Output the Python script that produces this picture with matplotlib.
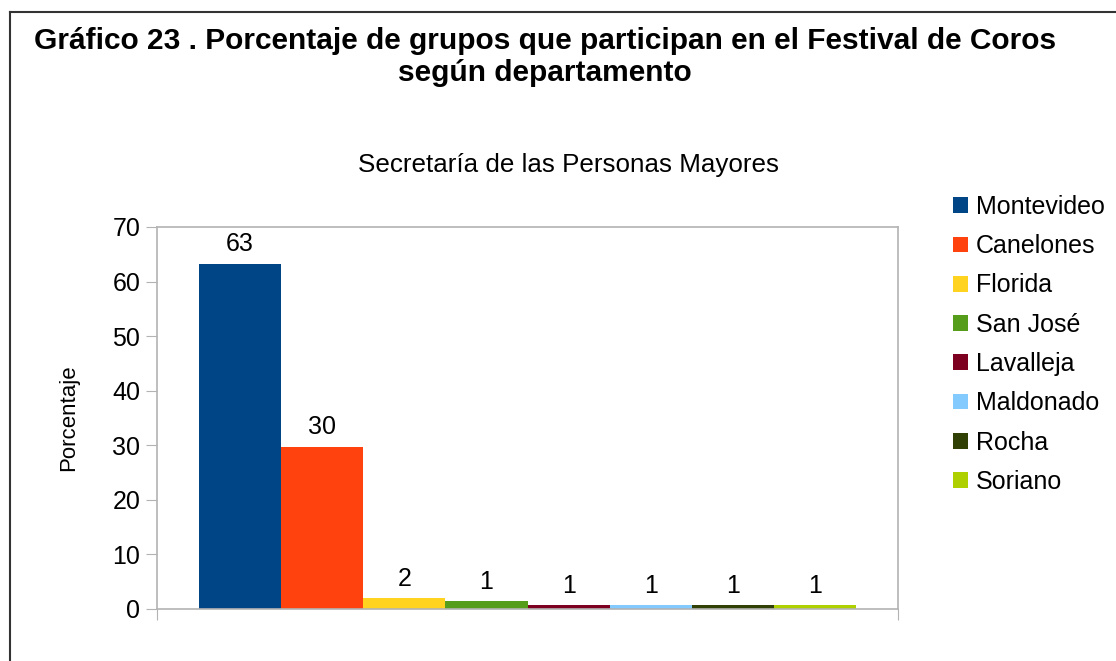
import matplotlib
matplotlib.use('Agg')
import matplotlib.pyplot as plt
from matplotlib.lines import Line2D

plt.rcParams['font.family'] = ['Liberation Sans', 'DejaVu Sans']

# datos: porcentaje de grupos por departamento
departamentos = ['Montevideo', 'Canelones', 'Florida', 'San José',
                 'Lavalleja', 'Maldonado', 'Rocha', 'Soriano']
porcentajes = [63.3, 29.7, 2.0, 1.4, 0.7, 0.7, 0.7, 0.7]
colores = ['#004586', '#ff420e', '#ffd320', '#579d1c',
           '#7e0021', '#83caff', '#314004', '#aecf00']
y_ticks = [0, 10, 20, 30, 40, 50, 60, 70]

titulo = 'Gráfico 23 . Porcentaje de grupos que participan en el Festival de Coros\nsegún departamento'
subtitulo = 'Secretaría de las Personas Mayores'

fig = plt.figure(figsize=(11.16, 6.61), dpi=100)
ax = fig.add_axes([157/1116, 1 - 609/661, (898-157)/1116, (609-227)/661])

n = len(departamentos)
ancho_grupo = 0.887
w = ancho_grupo / n
for i, (dep, val, col) in enumerate(zip(departamentos, porcentajes, colores)):
    x = 0.5 + (i - (n - 1) / 2) * w
    ax.bar(x, val, width=w, color=col, label=dep, linewidth=0)
    ax.annotate('%.0f' % val, (x, val), xytext=(0, 9), textcoords='offset points',
                ha='center', va='baseline', fontsize=18)

ax.set_xlim(0, 1)
ax.set_ylim(0, 70)
ax.set_yticks(y_ticks)
ax.set_xticks([0, 1])
ax.set_xticklabels([])
ax.tick_params(axis='y', length=8, color='#b3b3b3', labelsize=18, pad=4)
ax.tick_params(axis='x', length=8, color='#b3b3b3')
for s in ax.spines.values():
    s.set_color('#b3b3b3')
    s.set_linewidth(1.2)
ax.set_ylabel('Porcentaje', fontsize=16, labelpad=24)

ax.legend(loc='upper left', bbox_to_anchor=(953/1116, 1 - 195/661),
          bbox_transform=fig.transFigure, frameon=False, fontsize=18,
          handlelength=0.6, handleheight=0.6, handletextpad=0.3,
          labelspacing=0.61, borderaxespad=0, borderpad=0)

fig.text(545/1116, 1 - 57/661, titulo, ha='center', va='center',
         fontsize=21.5, fontweight='bold', linespacing=1.22)
fig.text(568/1116, 1 - 165/661, subtitulo, ha='center', va='center', fontsize=18.7)

# marco exterior
fig.add_artist(Line2D([10/1116, 10/1116], [0, 1 - 12/661], color='#333333', lw=1.5))
fig.add_artist(Line2D([10/1116, 1], [1 - 12/661, 1 - 12/661], color='#333333', lw=1.5))

fig.savefig('out.png', dpi=100)
